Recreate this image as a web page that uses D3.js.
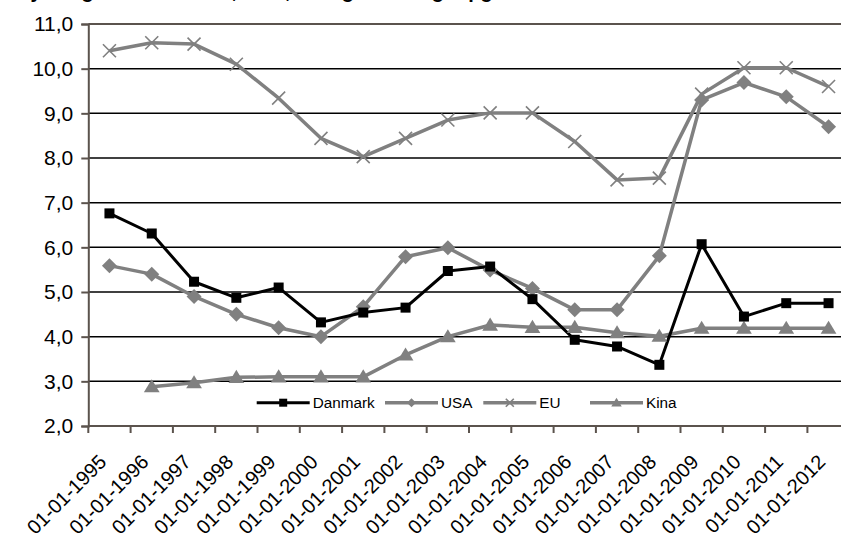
<!DOCTYPE html>
<html>
<head>
<meta charset="utf-8">
<script src="https://cdn.jsdelivr.net/npm/d3@7"></script>
<style>
  body { margin: 0; background: #fff; }
  svg { display: block; }
  text { font-family: "Liberation Sans", Arial, sans-serif; }
</style>
</head>
<body>
<svg id="chart" width="841" height="538"></svg>
<script>
const categories = ["01-01-1995","01-01-1996","01-01-1997","01-01-1998","01-01-1999","01-01-2000",
  "01-01-2001","01-01-2002","01-01-2003","01-01-2004","01-01-2005","01-01-2006","01-01-2007",
  "01-01-2008","01-01-2009","01-01-2010","01-01-2011","01-01-2012"];
const danmark = [6.76, 6.31, 5.23, 4.87, 5.10, 4.32, 4.54, 4.65, 5.47, 5.57, 4.84, 3.93, 3.78, 3.37, 6.07, 4.45, 4.75, 4.75];
const usa     = [5.59, 5.40, 4.90, 4.50, 4.20, 4.00, 4.67, 5.79, 5.99, 5.49, 5.08, 4.60, 4.60, 5.81, 9.30, 9.69, 9.37, 8.70];
const eu      = [10.40, 10.58, 10.55, 10.10, 9.34, 8.44, 8.03, 8.44, 8.85, 9.01, 9.01, 8.37, 7.51, 7.55, 9.43, 10.02, 10.02, 9.60];
const kina    = [null, 2.88, 2.97, 3.09, 3.10, 3.10, 3.10, 3.59, 4.00, 4.26, 4.21, 4.21, 4.09, 4.01, 4.19, 4.19, 4.19, 4.19];
const yTicks  = [2, 3, 4, 5, 6, 7, 8, 9, 10, 11];
const seriesNames = ["Danmark", "USA", "EU", "Kina"];

const svg = d3.select("#chart");
const axisColor = "#5b534d";
const grey = "#808080";

const left = 88.3, bandW = 42.3;
const x = d3.scaleBand().domain(categories).range([left, left + bandW * categories.length]);
const y = d3.scaleLinear().domain([2, 11]).range([426, 24]);

// Title (cut off at top edge, only descenders visible)
svg.append("text").attr("x", 16).attr("y", -2)
  .attr("font-size", 20).attr("font-weight", "bold").attr("fill", "#000")
  .text("Ny ledighed i Danmark, USA, EU og Kina stiger pga. krisen");

// gridlines
svg.append("g").selectAll("line").data(yTicks.filter(d => d > 2)).join("line")
  .attr("x1", left).attr("x2", 841)
  .attr("y1", d => y(d)).attr("y2", d => y(d))
  .attr("stroke", d => d === 11 ? axisColor : "#000")
  .attr("stroke-width", d => d === 11 ? 2 : 1.5);

// y axis
const yAxis = d3.axisLeft(y).tickValues(yTicks).tickSize(7).tickPadding(8)
  .tickFormat(d => d3.format(".1f")(d).replace(".", ","));
const gy = svg.append("g").attr("transform", `translate(${left},0)`).call(yAxis);
gy.select(".domain").attr("stroke", axisColor).attr("stroke-width", 2);
gy.selectAll(".tick line").attr("stroke", axisColor).attr("stroke-width", 2);
gy.selectAll(".tick text").attr("font-size", 21).attr("fill", "#000")
  .attr("font-family", "Liberation Sans, Arial, sans-serif");

// x axis
const gx = svg.append("g").attr("transform", `translate(0,${y(2)})`);
gx.append("line").attr("x1", left).attr("x2", 841).attr("y1", 0).attr("y2", 0)
  .attr("stroke", axisColor).attr("stroke-width", 2);
const boundaries = d3.range(categories.length + 1).map(i => left + i * bandW);
gx.selectAll("line.tk").data(boundaries).join("line").attr("class", "tk")
  .attr("x1", d => d).attr("x2", d => d).attr("y1", 0).attr("y2", 7)
  .attr("stroke", axisColor).attr("stroke-width", 2);
gx.selectAll("text").data(categories).join("text")
  .attr("transform", d => `translate(${x(d) + x.bandwidth() / 2 - 12},${27}) rotate(-45)`)
  .attr("text-anchor", "end").attr("dy", "0.72em")
  .attr("font-size", 20).attr("fill", "#000")
  .text(d => d);

// series
const cx = (i) => x(categories[i]) + x.bandwidth() / 2;
const line = d3.line().defined(d => d.v != null).x(d => cx(d.i)).y(d => y(d.v));
const toPts = arr => arr.map((v, i) => ({ v, i }));

function drawSeries(arr, color, width) {
  svg.append("path").datum(toPts(arr)).attr("d", line)
    .attr("fill", "none").attr("stroke", color).attr("stroke-width", width)
    .attr("stroke-linejoin", "round");
}
drawSeries(eu, grey, 3.5);
drawSeries(usa, grey, 3.5);
drawSeries(kina, grey, 3.5);
drawSeries(danmark, "#000", 3);

// markers
const sq = 10, dm = 7.5, xs = 6.5;
function squares(g, pts) {
  g.selectAll("rect").data(pts).join("rect")
    .attr("x", d => d.cx - sq / 2).attr("y", d => d.cy - sq / 2)
    .attr("width", sq).attr("height", sq).attr("fill", "#000");
}
function diamonds(g, pts, s) {
  g.selectAll("path").data(pts).join("path")
    .attr("d", d => `M${d.cx},${d.cy - s}L${d.cx + s},${d.cy}L${d.cx},${d.cy + s}L${d.cx - s},${d.cy}Z`)
    .attr("fill", grey);
}
function crosses(g, pts, s) {
  g.selectAll("path").data(pts).join("path")
    .attr("d", d => `M${d.cx - s},${d.cy - s}L${d.cx + s},${d.cy + s}M${d.cx - s},${d.cy + s}L${d.cx + s},${d.cy - s}`)
    .attr("stroke", grey).attr("stroke-width", 1.6).attr("fill", "none");
}
function triangles(g, pts, s) {
  g.selectAll("path").data(pts).join("path")
    .attr("d", d => `M${d.cx},${d.cy - s}L${d.cx + s * 1.05},${d.cy + s * 0.75}L${d.cx - s * 1.05},${d.cy + s * 0.75}Z`)
    .attr("fill", grey);
}
const P = arr => arr.map((v, i) => ({ v, i })).filter(d => d.v != null).map(d => ({ cx: cx(d.i), cy: y(d.v) }));
crosses(svg.append("g"), P(eu), xs);
diamonds(svg.append("g"), P(usa), dm);
triangles(svg.append("g"), P(kina), 7.5);
squares(svg.append("g"), P(danmark));

// legend
const legendY = 402.7;
const legendItems = [
  { name: seriesNames[0], x0: 256.7, color: "#000", w: 3, marker: "sq" },
  { name: seriesNames[1], x0: 385, color: grey, w: 3.5, marker: "dm" },
  { name: seriesNames[2], x0: 483.3, color: grey, w: 3.5, marker: "x" },
  { name: seriesNames[3], x0: 590, color: grey, w: 3.5, marker: "tr" }
];
const lg = svg.append("g");
legendItems.forEach(it => {
  const g = lg.append("g");
  g.append("line").attr("x1", it.x0).attr("x2", it.x0 + 53).attr("y1", legendY).attr("y2", legendY)
    .attr("stroke", it.color).attr("stroke-width", it.w);
  const m = [{ cx: it.x0 + 26.5, cy: legendY }];
  if (it.marker === "sq") {
    g.selectAll("rect").data(m).join("rect").attr("x", d => d.cx - 4).attr("y", d => d.cy - 4)
      .attr("width", 8).attr("height", 8).attr("fill", "#000");
  } else if (it.marker === "dm") diamonds(g, m, 4.5);
  else if (it.marker === "x") crosses(g, m, 4);
  else triangles(g, m, 5);
  g.append("text").attr("x", it.x0 + 56).attr("y", legendY).attr("dy", "0.36em")
    .attr("font-size", 15.3).attr("fill", "#000").text(it.name);
});
</script>
</body>
</html>
